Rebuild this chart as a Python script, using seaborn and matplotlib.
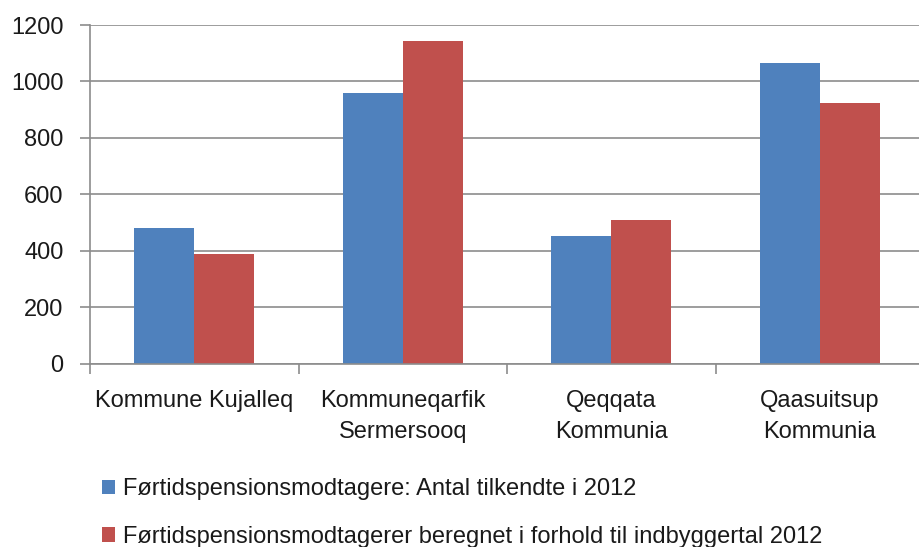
import matplotlib
matplotlib.use("Agg")
import matplotlib.pyplot as plt
import seaborn as sns
import pandas as pd

categories = ["Kommune Kujalleq", "Kommuneqarfik\nSermersooq", "Qeqqata\nKommunia", "Qaasuitsup\nKommunia"]
series_names = ["Førtidspensionsmodtagere: Antal tilkendte i 2012",
                "Førtidspensionsmodtagerer beregnet i forhold til indbyggertal 2012"]
antal_2012 = [482, 960, 452, 1066]
beregnet_2012 = [388, 1142, 507, 924]
y_ticks = [0, 200, 400, 600, 800, 1000, 1200]
colors = ["#4F81BD", "#C0504D"]

sns.set_style("white")
plt.rcParams["font.family"] = ["Liberation Sans", "DejaVu Sans"]

df = pd.DataFrame({
    "Kommune": categories * 2,
    "Serie": [series_names[0]] * 4 + [series_names[1]] * 4,
    "Værdi": antal_2012 + beregnet_2012,
})

fig = plt.figure(figsize=(9.19, 5.47), dpi=100)
ax = fig.add_axes([90 / 919, 1 - 363.5 / 547, 834 / 919, (363.5 - 25) / 547])
sns.barplot(data=df, x="Kommune", y="Værdi", hue="Serie", palette=colors,
            width=0.575, saturation=1, ax=ax, legend=True)

ax.set_ylim(0, 1200)
ax.set_xlim(-0.5, 3.5)
ax.set_yticks(y_ticks)
ax.set_yticklabels([str(v) for v in y_ticks])
ax.yaxis.grid(True, color="#8C8C8C", linewidth=1.2)
ax.set_axisbelow(True)
ax.set_xlabel("")
ax.set_ylabel("")
for s in ["top", "right"]:
    ax.spines[s].set_visible(False)
for s in ["left", "bottom"]:
    ax.spines[s].set_color("#8C8C8C")
    ax.spines[s].set_linewidth(1.2)

ax.tick_params(axis="y", which="major", length=7, width=1.2, color="#8C8C8C",
               pad=12, labelsize=17, labelcolor="#1a1a1a", direction="out", left=True)
ax.set_xticks([0, 1, 2, 3])
ax.set_xticks([-0.5, 0.5, 1.5, 2.5], minor=True)
ax.tick_params(axis="x", which="major", length=0, pad=19, labelsize=17, labelcolor="#1a1a1a")
ax.tick_params(axis="x", which="minor", length=7, width=1.2, color="#8C8C8C", direction="out", bottom=True)
for t in ax.get_xticklabels():
    t.set_linespacing(1.55)

for p in ax.patches:
    p.set_edgecolor("none")

handles, labels = ax.get_legend_handles_labels()
ax.get_legend().remove()
fig.legend(handles, labels, loc="upper left", bbox_to_anchor=(93 / 919, 1 - 469 / 547),
           frameon=False, fontsize=17, handlelength=0.55, handleheight=0.55,
           handletextpad=0.3, labelspacing=1.08, labelcolor="#1a1a1a",
           borderaxespad=0)

fig.savefig("out.png", dpi=100)
